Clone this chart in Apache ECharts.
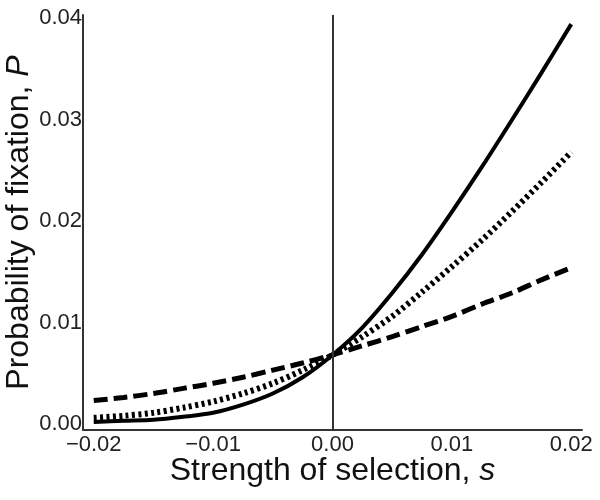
<!DOCTYPE html>
<html lang="en">
<head>
    <meta charset="UTF-8">
    <script src="https://cdn.jsdelivr.net/npm/echarts@6/dist/echarts.min.js"></script>
    <title>Probability of fixation</title>
    <style>
      html, body { margin: 0; padding: 0; background: #fff; }
      #main { width: 600px; height: 500px; }
    </style>
</head>
<body>
  <div id="main"></div>
  <script>
    // selection strength s (x) and fixation probability P (y)
    var sValues = [-0.02, -0.0175, -0.015, -0.0125, -0.01, -0.0075, -0.005, -0.0025, 0,
                   0.0025, 0.005, 0.0075, 0.01, 0.0125, 0.015, 0.0175, 0.02];
    var solidP  = [0.0002, 0.0003, 0.0004, 0.0007, 0.0011, 0.0019, 0.0030, 0.0046, 0.0068,
                   0.0095, 0.0129, 0.0167, 0.0209, 0.0253, 0.0299, 0.0346, 0.0394];
    var dottedP = [0.0006, 0.0008, 0.0011, 0.0016, 0.0022, 0.0030, 0.0040, 0.0053, 0.0068,
                   0.0086, 0.0106, 0.0130, 0.0155, 0.0181, 0.0209, 0.0238, 0.0268];
    var dashedP = [0.0023, 0.0026, 0.0030, 0.0035, 0.0040, 0.0046, 0.0053, 0.0060, 0.0068,
                   0.0077, 0.0086, 0.0096, 0.0106, 0.0118, 0.0129, 0.0142, 0.0154];
    var xTicks = [-0.02, -0.01, 0, 0.01, 0.02];
    var yTicks = [0, 0.01, 0.02, 0.03, 0.04];

    var font = "'Liberation Sans', Arial, Helvetica, sans-serif";
    var axisColor = '#333';

    function pairs(ys) {
      return sValues.map(function (s, i) { return [s, ys[i]]; });
    }
    function fmt(v) {
      return v.toFixed(2).replace('-', '\u2212');
    }

    var myChart = echarts.init(document.getElementById('main'));

    myChart.setOption({
      animation: false,
      grid: { left: 83, right: 18, top: 15, bottom: 70, containLabel: false, outerBoundsMode: 'none' },
      xAxis: {
        type: 'value',
        min: -0.0209,
        max: 0.0209,
        name: '{n|Strength of selection, }{i|s}',
        nameLocation: 'middle',
        nameGap: 25,
        nameMoveOverlap: false,
        nameTextStyle: {
          rich: {
            n: { fontSize: 32, fontFamily: font, color: '#111' },
            i: { fontSize: 32, fontFamily: font, fontStyle: 'italic', color: '#111' }
          }
        },
        axisLine: { onZero: false, lineStyle: { color: axisColor, width: 2 } },
        axisTick: { show: false },
        splitLine: { show: false },
        axisLabel: {
          customValues: xTicks,
          formatter: fmt,
          fontSize: 22,
          fontFamily: font,
          color: '#222',
          margin: 4
        }
      },
      yAxis: {
        type: 'value',
        min: -0.0006,
        max: 0.0403,
        name: '{n|Probability of fixation, }{i|P}',
        nameLocation: 'middle',
        nameGap: 48,
        nameMoveOverlap: false,
        nameTextStyle: {
          rich: {
            n: { fontSize: 32, fontFamily: font, color: '#111' },
            i: { fontSize: 32, fontFamily: font, fontStyle: 'italic', color: '#111' }
          }
        },
        axisLine: { show: true, onZero: false, lineStyle: { color: axisColor, width: 2 } },
        axisTick: { show: false },
        splitLine: { show: false },
        axisLabel: {
          customValues: yTicks,
          formatter: fmt,
          fontSize: 22,
          fontFamily: font,
          color: '#222',
          margin: 1
        }
      },
      series: [
        {
          name: 'dashed',
          type: 'line',
          data: pairs(dashedP),
          smooth: 0.3,
          showSymbol: false,
          lineStyle: { color: '#000', width: 5, type: [14, 6], cap: 'butt' },
          markLine: {
            silent: true,
            symbol: 'none',
            label: { show: false },
            lineStyle: { color: axisColor, width: 2, type: 'solid' },
            data: [{ xAxis: 0 }]
          }
        },
        {
          name: 'dotted',
          type: 'line',
          data: pairs(dottedP),
          smooth: 0.3,
          showSymbol: false,
          lineStyle: { color: '#000', width: 6, type: [3, 3.4], cap: 'butt' }
        },
        {
          name: 'solid',
          type: 'line',
          data: pairs(solidP),
          smooth: 0.3,
          showSymbol: false,
          lineStyle: { color: '#000', width: 4 }
        }
      ]
    });
  </script>
</body>
</html>
